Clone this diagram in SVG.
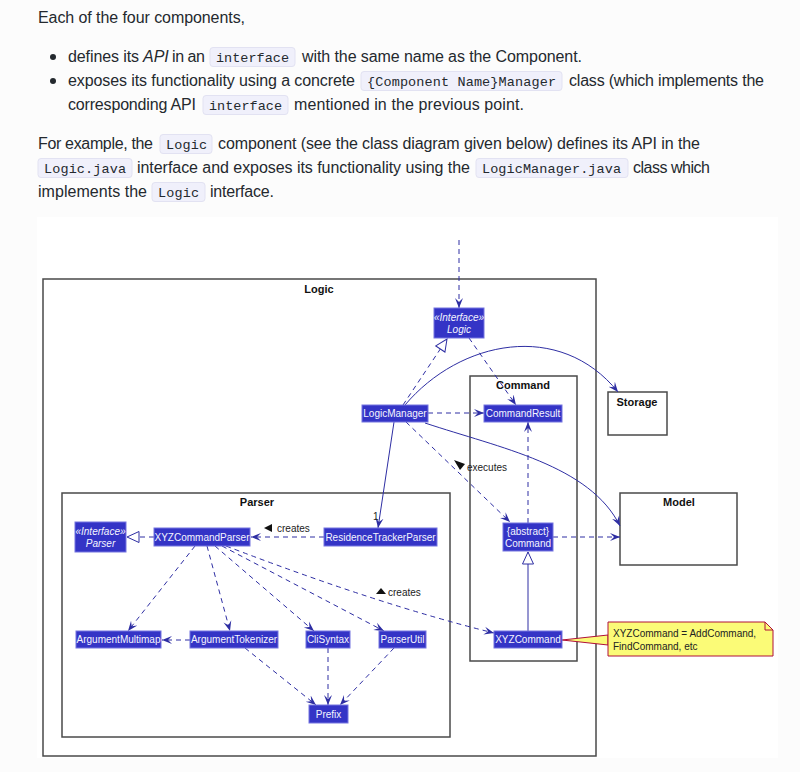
<svg xmlns="http://www.w3.org/2000/svg" width="800" height="772" viewBox="0 0 800 772">
<style>
.p{font-family:"Liberation Sans",Arial,sans-serif;font-size:16px;fill:#24292e}
.c{font-family:"Liberation Mono","Courier New",monospace;font-size:13.5px;fill:#24292e}
.cb{fill:#f0f0fb;stroke:#e2e2f2;stroke-width:1}
.fr{fill:none;stroke:#4a4a4a;stroke-width:1.5}
.frw{fill:#fff;stroke:#4a4a4a;stroke-width:1.5}
.ft{font-family:"Liberation Sans",Arial,sans-serif;font-size:11px;font-weight:bold;fill:#111;text-anchor:middle}
.nb{fill:#3434c6;stroke:#7474e0;stroke-width:1}
.nt{font-family:"Liberation Sans",Arial,sans-serif;font-size:10px;fill:#f4f4ff;text-anchor:middle}
.it{font-style:italic}
.d{fill:none;stroke:#2e2ea3;stroke-width:1;stroke-dasharray:5,4}
.s{fill:none;stroke:#2e2ea3;stroke-width:1}
.lb{font-family:"Liberation Sans",Arial,sans-serif;font-size:10px;fill:#222}
</style>
<defs>
<marker id="vee" viewBox="0 0 10 10" refX="10" refY="5" markerWidth="10" markerHeight="10" markerUnits="userSpaceOnUse" orient="auto">
<path d="M0,1 L10,5 L0,9 L4,5 Z" fill="#2e2ea3" stroke="none"/>
</marker>
<marker id="tri" viewBox="0 0 14 14" refX="13" refY="7" markerWidth="14" markerHeight="14" markerUnits="userSpaceOnUse" orient="auto">
<path d="M1,1.5 L13,7 L1,12.5 Z" fill="#fff" stroke="#2e2ea3" stroke-width="1" stroke-dasharray="none"/>
</marker>
</defs>
<rect x="0" y="0" width="800" height="772" fill="#fcfcfc"/>

<g id="prose">
<text class="p" x="38" y="23" textLength="207" lengthAdjust="spacing">Each of the four components,</text>
<circle cx="53" cy="57" r="3" fill="#24292e"/>
<text class="p" x="68" y="62" textLength="71" lengthAdjust="spacing">defines its</text>
<text class="p" x="143" y="62" font-style="italic">API</text>
<text class="p" x="172" y="62" textLength="33" lengthAdjust="spacing">in an</text>
<rect class="cb" x="210" y="47.5" width="85" height="19" rx="3"/>
<text class="c" x="216" y="61.5" textLength="73">interface</text>
<text class="p" x="302" y="62" textLength="280" lengthAdjust="spacing">with the same name as the Component.</text>
<circle cx="53" cy="81" r="3" fill="#24292e"/>
<text class="p" x="68" y="86" textLength="287" lengthAdjust="spacing">exposes its functionality using a concrete</text>
<rect class="cb" x="361" y="71.5" width="201" height="19" rx="3"/>
<text class="c" x="367" y="85.5" textLength="189">{Component Name}Manager</text>
<text class="p" x="569" y="86" textLength="195" lengthAdjust="spacing">class (which implements the</text>
<text class="p" x="68" y="110" textLength="128" lengthAdjust="spacing">corresponding API</text>
<rect class="cb" x="203" y="95.5" width="85" height="19" rx="3"/>
<text class="c" x="209" y="109.5" textLength="73">interface</text>
<text class="p" x="294" y="110" textLength="230" lengthAdjust="spacing">mentioned in the previous point.</text>
<text class="p" x="38" y="149" textLength="115" lengthAdjust="spacing">For example, the</text>
<rect class="cb" x="160" y="134.5" width="52" height="19" rx="3"/>
<text class="c" x="166" y="148.5" textLength="41">Logic</text>
<text class="p" x="218" y="149" textLength="482" lengthAdjust="spacing">component (see the class diagram given below) defines its API in the</text>
<rect class="cb" x="38" y="158.5" width="94" height="19" rx="3"/>
<text class="c" x="44" y="172.5" textLength="82">Logic.java</text>
<text class="p" x="137" y="173" textLength="333" lengthAdjust="spacing">interface and exposes its functionality using the</text>
<rect class="cb" x="476" y="158.5" width="152" height="19" rx="3"/>
<text class="c" x="482" y="172.5" textLength="139">LogicManager.java</text>
<text class="p" x="633" y="173" textLength="77" lengthAdjust="spacing">class which</text>
<text class="p" x="38" y="197" textLength="109" lengthAdjust="spacing">implements the</text>
<rect class="cb" x="152" y="182.5" width="53" height="19" rx="3"/>
<text class="c" x="158" y="196.5" textLength="41">Logic</text>
<text class="p" x="210" y="197" textLength="64" lengthAdjust="spacing">interface.</text>
</g>

<rect x="37" y="217" width="741" height="541" fill="#ffffff"/>

<g id="frame-logic">
<rect class="fr" x="43" y="279" width="553" height="477"/>
<text class="ft" x="319" y="293">Logic</text>
</g>
<g id="frame-parser">
<rect class="fr" x="62" y="493" width="388" height="244"/>
<text class="ft" x="257" y="506">Parser</text>
</g>
<g id="frame-command">
<rect class="fr" x="470" y="376" width="107" height="285"/>
<text class="ft" x="523" y="389">Command</text>
</g>
<g id="storage">
<rect class="frw" x="608" y="392" width="59" height="43"/>
<text class="ft" x="637" y="406">Storage</text>
</g>
<g id="model">
<rect class="frw" x="620" y="493" width="117" height="72"/>
<text class="ft" x="679" y="506">Model</text>
</g>

<g id="connectors">
<line class="d" x1="459" y1="240" x2="459" y2="308" marker-end="url(#vee)"/>
<line class="d" x1="403" y1="405" x2="447" y2="339" marker-end="url(#tri)"/>
<line class="d" x1="469" y1="338" x2="516" y2="405" marker-end="url(#vee)"/>
<line class="d" x1="428" y1="413" x2="484" y2="413" marker-end="url(#vee)"/>
<path class="s" d="M405,405 C460,340 560,320 618,392" marker-end="url(#vee)"/>
<path class="s" d="M425,423 C500,448 590,465 620,526" marker-end="url(#vee)"/>
<line class="s" x1="394" y1="422" x2="378" y2="528" marker-end="url(#vee)"/>
<text class="lb" x="373" y="520" font-size="9">1</text>
<line class="d" x1="406" y1="422" x2="510" y2="522" marker-end="url(#vee)"/>
<polygon points="454,460 465,464 460,470" fill="#111"/>
<text class="lb" x="467" y="471">executes</text>
<line class="d" x1="528" y1="523" x2="528" y2="422" marker-end="url(#vee)"/>
<line class="d" x1="553" y1="537" x2="620" y2="537" marker-end="url(#vee)"/>
<line class="s" x1="528" y1="631" x2="528" y2="552" marker-end="url(#tri)"/>
<polygon points="562,640 608,635 608,645" fill="#fbfb77" stroke="#b0103a" stroke-width="1"/>
<path class="d" d="M226,546 Q380,605 494,633" marker-end="url(#vee)"/>
<polygon points="376,594 381,588 386,594" fill="#111"/>
<text class="lb" x="388" y="596">creates</text>
<line class="d" x1="154" y1="537" x2="127" y2="537" marker-end="url(#tri)"/>
<line class="d" x1="324" y1="537" x2="251" y2="537" marker-end="url(#vee)"/>
<polygon points="264,528 272,524 272,532" fill="#111"/>
<text class="lb" x="277" y="532">creates</text>
<line class="d" x1="195" y1="546" x2="128" y2="631" marker-end="url(#vee)"/>
<line class="d" x1="207" y1="546" x2="230" y2="631" marker-end="url(#vee)"/>
<line class="d" x1="215" y1="546" x2="314" y2="631" marker-end="url(#vee)"/>
<line class="d" x1="222" y1="546" x2="384" y2="631" marker-end="url(#vee)"/>
<line class="d" x1="190" y1="640" x2="162" y2="640" marker-end="url(#vee)"/>
<line class="d" x1="245" y1="648" x2="316" y2="705" marker-end="url(#vee)"/>
<line class="d" x1="328" y1="648" x2="328" y2="705" marker-end="url(#vee)"/>
<line class="d" x1="394" y1="648" x2="340" y2="705" marker-end="url(#vee)"/>
</g>

<g id="logic-interface">
<rect class="nb" x="434" y="308" width="50" height="30"/>
<text class="nt it" x="459" y="321" font-size="9">«Interface»</text>
<text class="nt it" x="459" y="333">Logic</text>
</g>
<g id="logic-manager">
<rect class="nb" x="362" y="405" width="66" height="17"/>
<text class="nt" x="395" y="417">LogicManager</text>
</g>
<g id="command-result">
<rect class="nb" x="484" y="405" width="78" height="17"/>
<text class="nt" x="523" y="417">CommandResult</text>
</g>
<g id="command">
<rect class="nb" x="503" y="523" width="50" height="28"/>
<text class="nt" x="528" y="535">{abstract}</text>
<text class="nt" x="528" y="547">Command</text>
</g>
<g id="xyz-command">
<rect class="nb" x="494" y="631" width="68" height="17"/>
<text class="nt" x="528" y="643">XYZCommand</text>
</g>
<g id="note">
<path d="M608,622 L765,622 L773,630 L773,656 L608,656 Z" fill="#fbfb77" stroke="#b0103a" stroke-width="1"/>
<path d="M765,622 L765,630 L773,630" fill="none" stroke="#b0103a" stroke-width="1"/>
<text class="lb" x="613" y="637">XYZCommand = AddCommand,</text>
<text class="lb" x="613" y="650">FindCommand, etc</text>
</g>
<g id="parser-interface">
<rect class="nb" x="75" y="522" width="51" height="30"/>
<text class="nt it" x="100.5" y="535" font-size="9">«Interface»</text>
<text class="nt it" x="100.5" y="547">Parser</text>
</g>
<g id="xyz-command-parser">
<rect class="nb" x="154" y="528" width="96" height="18"/>
<text class="nt" x="202" y="541">XYZCommandParser</text>
</g>
<g id="residence-tracker-parser">
<rect class="nb" x="324" y="528" width="113" height="18"/>
<text class="nt" x="380.5" y="541">ResidenceTrackerParser</text>
</g>
<g id="argument-multimap">
<rect class="nb" x="76" y="631" width="85" height="17"/>
<text class="nt" x="118.5" y="643">ArgumentMultimap</text>
</g>
<g id="argument-tokenizer">
<rect class="nb" x="190" y="631" width="88" height="17"/>
<text class="nt" x="234" y="643">ArgumentTokenizer</text>
</g>
<g id="cli-syntax">
<rect class="nb" x="306" y="631" width="44" height="17"/>
<text class="nt" x="328" y="643">CliSyntax</text>
</g>
<g id="parser-util">
<rect class="nb" x="379" y="631" width="47" height="17"/>
<text class="nt" x="402.5" y="643">ParserUtil</text>
</g>
<g id="prefix">
<rect class="nb" x="309" y="705" width="39" height="18"/>
<text class="nt" x="328.5" y="718">Prefix</text>
</g>
</svg>
